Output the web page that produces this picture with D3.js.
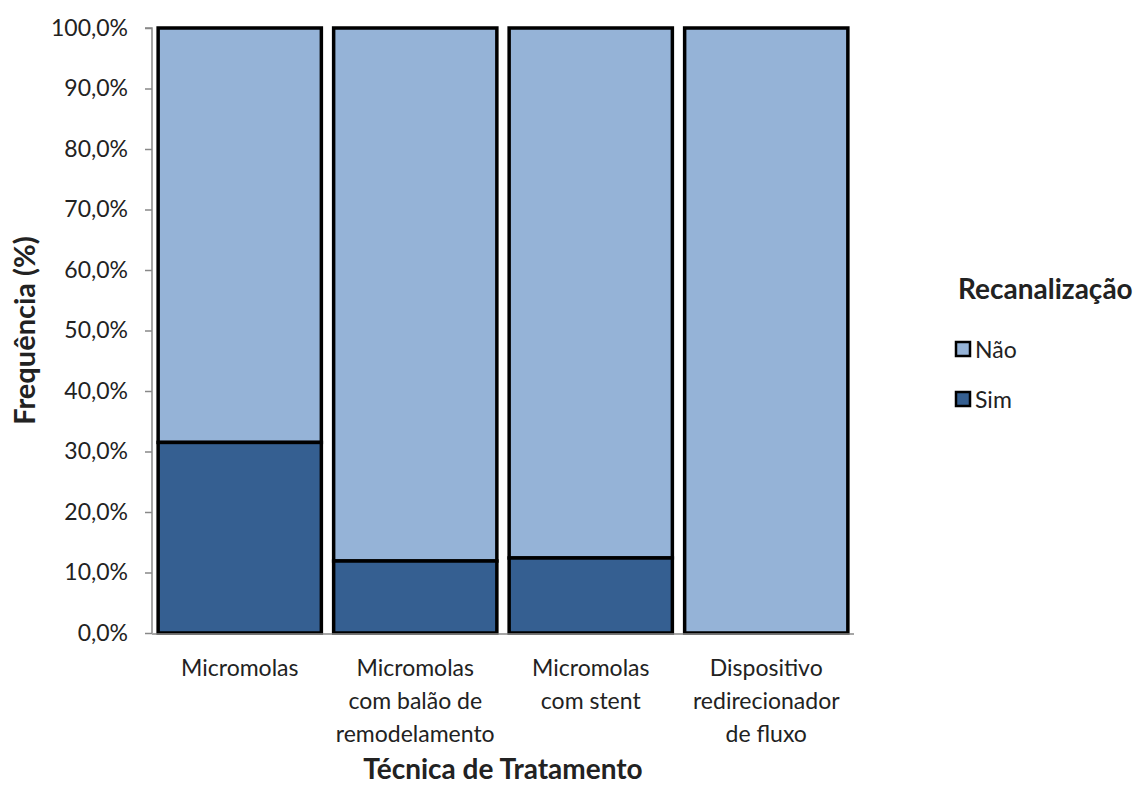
<!DOCTYPE html>
<html><head><meta charset="utf-8">
<script src="https://cdn.jsdelivr.net/npm/d3@7"></script>
<style>body{margin:0;background:#fff}svg{display:block}text{font-family:Lato,"Open Sans",sans-serif}</style>
</head><body>
<svg id="c" width="1142" height="787"></svg>
<script>
const categories = [["Micromolas"],["Micromolas","com balão de","remodelamento"],["Micromolas","com stent"],["Dispositivo","redirecionador","de fluxo"]];
const sim = [31.5, 11.9, 12.4, 0];
const nao = [68.5, 88.1, 87.6, 100];
const seriesNames = ["Não","Sim"];
const yTicks = [0,10,20,30,40,50,60,70,80,90,100];
const colors = {"Não":"#95B3D7","Sim":"#355F91"};

const svg = d3.select("#c");
const m = {l:152, r:854, t:28, b:633};
const x = d3.scaleBand().domain(d3.range(categories.length)).range([m.l, m.r]).paddingInner(0.07).paddingOuter(0.035);
const y = d3.scaleLinear().domain([0,100]).range([m.b, m.t]);

// y axis
const ya = svg.append("g").attr("transform",`translate(${m.l},0)`)
  .call(d3.axisLeft(y).tickValues(yTicks).tickSize(7).tickPadding(17).tickFormat(d=>d.toFixed(1).replace(".",",")+"%"));
ya.select(".domain").attr("stroke","#888").attr("stroke-width",1.5).attr("d",`M-7,${m.t}H0V${m.b}`);
ya.selectAll(".tick line").attr("stroke","#888").attr("stroke-width",1.5);
ya.selectAll(".tick text").attr("font-size",23).attr("fill","#222");

// bars
const data = categories.map((c,i)=>({i, sim:sim[i], nao:nao[i]}));
const g = svg.append("g");
data.forEach(d=>{
  const x0 = x(d.i), w = x.bandwidth();
  g.append("rect").attr("x",x0).attr("y",y(d.sim+d.nao)).attr("width",w).attr("height",y(d.sim)-y(d.sim+d.nao))
    .attr("fill",colors["Não"]).attr("stroke","#000").attr("stroke-width",3.5);
  if (d.sim>0) g.append("rect").attr("x",x0).attr("y",y(d.sim)).attr("width",w).attr("height",y(0)-y(d.sim))
    .attr("fill",colors["Sim"]).attr("stroke","#000").attr("stroke-width",3.5);
});

// x axis line
svg.append("line").attr("x1",m.l).attr("x2",m.r).attr("y1",m.b+1).attr("y2",m.b+1).attr("stroke","#888").attr("stroke-width",1.5);

// category labels
categories.forEach((lines,i)=>{
  const t = svg.append("text").attr("x",x(i)+x.bandwidth()/2).attr("y",676).attr("text-anchor","middle").attr("font-size",23).attr("fill","#222");
  lines.forEach((l,j)=>t.append("tspan").attr("x",x(i)+x.bandwidth()/2).attr("dy",j?33:0).text(l));
});

// axis titles
svg.append("text").attr("x",(m.l+m.r)/2).attr("y",779).attr("text-anchor","middle").attr("font-size",28).attr("font-weight","bold").attr("fill","#222").text("Técnica de Tratamento");
svg.append("text").attr("transform",`translate(35,${(m.t+m.b)/2}) rotate(-90)`).attr("text-anchor","middle").attr("font-size",29).attr("font-weight","bold").attr("fill","#222").text("Frequência (%)");

// legend
svg.append("text").attr("x",958).attr("y",299).attr("font-size",28).attr("font-weight","bold").attr("fill","#222").text("Recanalização");
seriesNames.forEach((s,i)=>{
  const yy = 342 + i*50;
  svg.append("rect").attr("x",956).attr("y",yy).attr("width",14).attr("height",14).attr("fill",colors[s]).attr("stroke","#000").attr("stroke-width",2.5);
  svg.append("text").attr("x",975).attr("y",yy+16).attr("font-size",23).attr("fill","#222").text(s);
});
</script>
</body></html>
